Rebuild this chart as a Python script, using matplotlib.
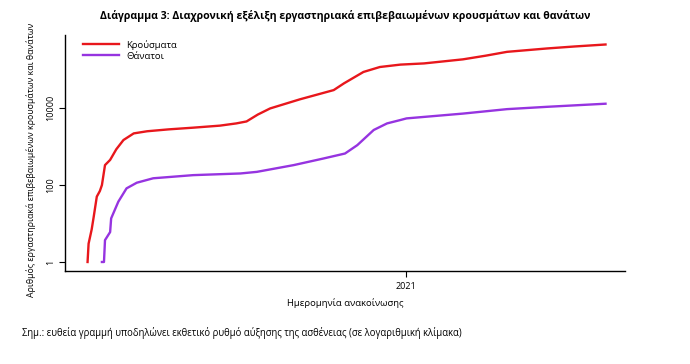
import numpy as np
import pandas as pd
import matplotlib
matplotlib.use("Agg")
import matplotlib.pyplot as plt
import matplotlib.dates as mdates

# cumulative lab-confirmed cases (log scale)
case_dates = ["2020-02-26", "2020-02-27", "2020-03-01", "2020-03-03", "2020-03-06",
              "2020-03-09", "2020-03-11", "2020-03-14", "2020-03-19", "2020-03-25",
              "2020-04-01", "2020-04-11", "2020-04-24", "2020-05-15", "2020-06-08",
              "2020-07-04", "2020-07-20", "2020-07-30", "2020-08-10", "2020-08-22",
              "2020-09-20", "2020-10-23", "2020-11-02", "2020-11-21", "2020-12-07",
              "2020-12-27", "2021-01-19", "2021-02-26", "2021-03-20", "2021-04-10",
              "2021-05-19", "2021-06-15", "2021-07-15"]
cases = [1, 3, 7, 15, 50, 70, 100, 330, 450, 850,
         1480, 2200, 2500, 2800, 3100,
         3500, 4000, 4500, 6800, 9800,
         16900, 29400, 44000, 87000, 117000,
         135000, 145000, 185000, 230000, 290000,
         355000, 400000, 450000]

# cumulative deaths
death_dates = ["2020-03-11", "2020-03-13", "2020-03-14", "2020-03-19", "2020-03-20",
               "2020-03-27", "2020-04-04", "2020-04-14", "2020-04-30", "2020-06-08",
               "2020-07-24", "2020-08-09", "2020-09-14", "2020-10-13", "2020-11-03",
               "2020-11-15", "2020-12-01", "2020-12-14", "2020-12-27", "2021-01-02",
               "2021-02-26", "2021-04-10", "2021-05-19", "2021-07-15"]
deaths = [1, 1, 3.7, 6, 13.6, 37, 82, 115, 150, 181,
          200, 220, 330, 490, 660,
          1090, 2700, 4000, 4900, 5400,
          7200, 9400, 10800, 13000]

title = "Διάγραμμα 3: Διαχρονική εξέλιξη εργαστηριακά επιβεβαιωμένων κρουσμάτων και θανάτων"
note = "Σημ.: ευθεία γραμμή υποδηλώνει εκθετικό ρυθμό αύξησης της ασθένειας (σε λογαριθμική κλίμακα)"

plt.rcParams['font.family'] = ['Open Sans', 'DejaVu Sans']

fig = plt.figure(figsize=(6.9, 3.64), dpi=100)
ax = fig.add_axes([65 / 690, 1 - 271 / 364, 560 / 690, 236 / 364])

ax.plot(pd.to_datetime(case_dates), cases, color="#e8171c", lw=1.7, label="Κρούσματα")
ax.plot(pd.to_datetime(death_dates), deaths, color="#9634e0", lw=1.7, label="Θάνατοι")

ax.set_yscale("log")
ax.set_ylim(10 ** -0.234, 10 ** 5.9)
ax.set_xlim(pd.Timestamp("2020-02-04"), pd.Timestamp("2021-08-03"))

ax.set_yticks([1, 100, 10000])
ax.set_yticklabels(["1", "100", "10000"], rotation=90, va="center", fontsize=6.5)
ax.yaxis.set_minor_locator(matplotlib.ticker.NullLocator())
ax.set_xticks([pd.Timestamp("2021-01-01")])
ax.xaxis.set_major_formatter(mdates.DateFormatter("%Y"))
ax.tick_params(axis="x", labelsize=6.5, length=4, pad=4)
ax.tick_params(axis="y", length=4, pad=3)

for s in ["top", "right"]:
    ax.spines[s].set_visible(False)
for s in ["left", "bottom"]:
    ax.spines[s].set_linewidth(1.0)

ax.set_ylabel("Αριθμός εργαστηριακά επιβεβαιωμένων κρουσμάτων και θανάτων", fontsize=6.3)
ax.yaxis.set_label_coords(-0.052, 0.47)
ax.set_xlabel("Ημερομηνία ανακοίνωσης", fontsize=6.8, labelpad=5)

ax.legend(loc="upper left", frameon=False, fontsize=6.8, handlelength=3.8,
          labelspacing=0.2, bbox_to_anchor=(0.017, 1.015))

fig.text(0.5, 1 - 16 / 364, title, ha="center", va="center", fontsize=7.6, fontweight="bold")
fig.text(22 / 690, 1 - 333 / 364, note, ha="left", va="center", fontsize=6.85)

fig.savefig("out.png", dpi=100)
